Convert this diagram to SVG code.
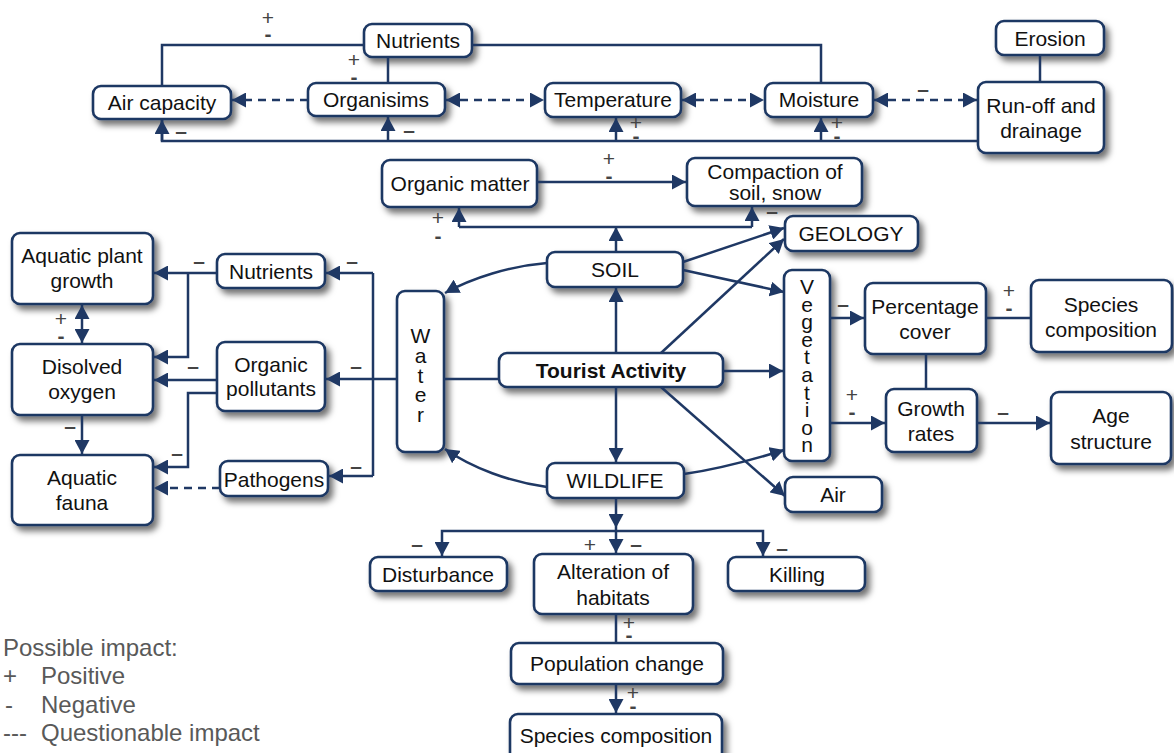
<svg xmlns="http://www.w3.org/2000/svg" width="1174" height="753" viewBox="0 0 1174 753">
<style>
.box{fill:#fff;stroke:#1f3864;stroke-width:2.6;filter:url(#sh)}
.t{font-family:"Liberation Sans",Arial,sans-serif;font-size:21px;fill:#111;text-anchor:middle}
.b{font-weight:bold}
.c{fill:none;stroke:#1f3864;stroke-width:2.5}
.d{stroke-dasharray:8 6}
.a{marker-end:url(#ar)}
.aa{marker-end:url(#ar);marker-start:url(#ar)}
.s{font-family:"Liberation Sans",Arial,sans-serif;font-size:21px;fill:#444;text-anchor:middle}
.m{font-weight:bold}
.lg{font-family:"Liberation Sans",Arial,sans-serif;font-size:24px;fill:#595959}
</style>
<defs>
<filter id="sh" x="-20%" y="-30%" width="150%" height="170%">
<feDropShadow dx="4" dy="5" stdDeviation="3.4" flood-color="#000" flood-opacity="0.55"/>
</filter>
<marker id="ar" viewBox="0 0 14 15" refX="14" refY="7.5" markerWidth="14" markerHeight="15" markerUnits="userSpaceOnUse" orient="auto-start-reverse">
<path d="M0,0 L14,7.5 L0,15 z" fill="#1f3864"/>
</marker>
</defs>
<rect width="1174" height="753" fill="#fff"/>

<g id="n-nutrients-top"><rect class="box" x="364" y="24" width="108" height="33" rx="8"/><text class="t" x="418" y="48">Nutrients</text></g>
<g id="n-air-capacity"><rect class="box" x="93" y="86" width="138" height="33" rx="8"/><text class="t" x="162" y="110">Air capacity</text></g>
<g id="n-organisims"><rect class="box" x="308" y="83" width="137" height="33" rx="8"/><text class="t" x="376" y="107">Organisims</text></g>
<g id="n-temperature"><rect class="box" x="545" y="83" width="136" height="34" rx="8"/><text class="t" x="613" y="107">Temperature</text></g>
<g id="n-moisture"><rect class="box" x="765" y="83" width="108" height="34" rx="8"/><text class="t" x="819" y="107">Moisture</text></g>
<g id="n-erosion"><rect class="box" x="996" y="21" width="108" height="34" rx="8"/><text class="t" x="1050" y="46">Erosion</text></g>
<g id="n-runoff"><rect class="box" x="978" y="82" width="126" height="71" rx="8"/><text class="t" x="1041" y="113">Run-off and</text><text class="t" x="1041" y="138">drainage</text></g>

<g id="n-organic-matter"><rect class="box" x="382" y="160" width="155" height="47" rx="8"/><text class="t" x="460" y="191">Organic matter</text></g>
<g id="n-compaction"><rect class="box" x="687" y="158" width="175" height="48" rx="8"/><text class="t" x="775" y="179">Compaction of</text><text class="t" x="775" y="200">soil, snow</text></g>
<g id="n-geology"><rect class="box" x="785" y="216" width="133" height="35" rx="8"/><text class="t" x="851" y="241">GEOLOGY</text></g>
<g id="n-soil"><rect class="box" x="547" y="252" width="136" height="35" rx="8"/><text class="t" x="615" y="277">SOIL</text></g>
<g id="n-water"><rect class="box" x="397" y="291" width="47" height="161" rx="8"/><text class="t" x="420.5" y="343"><tspan x="420.5">W</tspan><tspan x="420.5" dy="19.8">a</tspan><tspan x="420.5" dy="19.8">t</tspan><tspan x="420.5" dy="19.8">e</tspan><tspan x="420.5" dy="19.8">r</tspan></text></g>
<g id="n-tourist"><rect class="box" x="499" y="353" width="224" height="34" rx="8"/><text class="t b" x="611" y="378">Tourist Activity</text></g>
<g id="n-vegetation"><rect class="box" x="784" y="270" width="46" height="191" rx="8"/><text class="t" x="807" y="294"><tspan x="807">V</tspan><tspan x="807" dy="17.6">e</tspan><tspan x="807" dy="17.6">g</tspan><tspan x="807" dy="17.6">e</tspan><tspan x="807" dy="17.6">t</tspan><tspan x="807" dy="17.6">a</tspan><tspan x="807" dy="17.6">t</tspan><tspan x="807" dy="17.6">i</tspan><tspan x="807" dy="17.6">o</tspan><tspan x="807" dy="17.6">n</tspan></text></g>
<g id="n-wildlife"><rect class="box" x="547" y="463" width="137" height="35" rx="8"/><text class="t" x="615" y="488">WILDLIFE</text></g>
<g id="n-air"><rect class="box" x="785" y="477" width="97" height="35" rx="8"/><text class="t" x="833" y="502">Air</text></g>

<g id="n-percentage-cover"><rect class="box" x="865" y="283" width="121" height="71" rx="8"/><text class="t" x="925" y="314">Percentage</text><text class="t" x="925" y="339">cover</text></g>
<g id="n-species-composition-right"><rect class="box" x="1031" y="280" width="141" height="72" rx="8"/><text class="t" x="1101" y="312">Species</text><text class="t" x="1101" y="337">composition</text></g>
<g id="n-growth-rates"><rect class="box" x="886" y="389" width="91" height="63" rx="8"/><text class="t" x="931" y="416">Growth</text><text class="t" x="931" y="441">rates</text></g>
<g id="n-age-structure"><rect class="box" x="1051" y="392" width="120" height="72" rx="8"/><text class="t" x="1111" y="423">Age</text><text class="t" x="1111" y="449">structure</text></g>

<g id="n-aquatic-plant"><rect class="box" x="12" y="233" width="141" height="71" rx="8"/><text class="t" x="82" y="263">Aquatic plant</text><text class="t" x="82" y="288">growth</text></g>
<g id="n-disolved-oxygen"><rect class="box" x="12" y="344" width="141" height="71" rx="8"/><text class="t" x="82" y="374">Disolved</text><text class="t" x="82" y="399">oxygen</text></g>
<g id="n-aquatic-fauna"><rect class="box" x="12" y="455" width="141" height="70" rx="8"/><text class="t" x="82" y="485">Aquatic</text><text class="t" x="82" y="510">fauna</text></g>
<g id="n-nutrients-left"><rect class="box" x="217" y="254" width="108" height="34" rx="8"/><text class="t" x="271" y="279">Nutrients</text></g>
<g id="n-organic-pollutants"><rect class="box" x="217" y="342" width="108" height="69" rx="8"/><text class="t" x="271" y="372">Organic</text><text class="t" x="271" y="396">pollutants</text></g>
<g id="n-pathogens"><rect class="box" x="220" y="461" width="108" height="35" rx="8"/><text class="t" x="274" y="487">Pathogens</text></g>

<g id="n-disturbance"><rect class="box" x="370" y="557" width="137" height="34" rx="8"/><text class="t" x="438" y="582">Disturbance</text></g>
<g id="n-alteration"><rect class="box" x="534" y="554" width="159" height="60" rx="8"/><text class="t" x="613" y="579">Alteration of</text><text class="t" x="613" y="605">habitats</text></g>
<g id="n-killing"><rect class="box" x="728" y="557" width="137" height="34" rx="8"/><text class="t" x="797" y="582">Killing</text></g>
<g id="n-population-change"><rect class="box" x="511" y="643" width="212" height="41" rx="8"/><text class="t" x="617" y="671">Population change</text></g>
<g id="n-species-composition-bottom"><rect class="box" x="510" y="714" width="212" height="48" rx="8"/><text class="t" x="616" y="743">Species composition</text></g>

<g id="connectors">
<path class="c" d="M162,86 L162,45 L364,45"/>
<path class="c" d="M472,45 L821,45 L821,83"/>
<path class="c" d="M388,57 L388,83"/>
<path class="c" d="M1040,55 L1040,82"/>
<path class="c" d="M978,141 L162,141 L162,120"/>
<path class="c a" d="M162,141 L162,120"/>
<path class="c a" d="M388,141 L388,117"/>
<path class="c a" d="M616,141 L616,118"/>
<path class="c a" d="M821,141 L821,118"/>
<path class="c d a" d="M308,100 L232,100"/>
<path class="c d aa" d="M446,100 L544,100"/>
<path class="c d aa" d="M682,100 L764,100"/>
<path class="c d aa" d="M874,100 L977,100"/>

<path class="c a" d="M537,182 L686,182"/>
<path class="c a" d="M616,252 L616,227"/>
<path class="c" d="M459,227 L752,227"/>
<path class="c a" d="M459,227 L459,208"/>
<path class="c a" d="M752,227 L752,207"/>

<path class="c a" d="M683,262 L784,228"/>
<path class="c a" d="M683,270 L784,292"/>
<path class="c a" d="M661,353 L784,239"/>
<path class="c a" d="M616,353 L616,288"/>
<path class="c a" d="M616,387 L616,462"/>
<path class="c a" d="M723,371 L783,371"/>
<path class="c a" d="M661,387 L785,496"/>
<path class="c" d="M499,379 L444,379"/>
<path class="c a" d="M547,263 C510,266 472,278 445,293"/>
<path class="c a" d="M547,487 C510,482 472,468 445,449"/>
<path class="c a" d="M684,474 C720,469 752,460 784,450"/>

<path class="c a" d="M830,318 L864,318"/>
<path class="c a" d="M830,423 L885,423"/>
<path class="c" d="M986,318 L1031,318"/>
<path class="c" d="M926,354 L926,389"/>
<path class="c a" d="M977,423 L1050,423"/>

<path class="c a" d="M397,379 L326,379"/>
<path class="c" d="M373,273 L373,476"/>
<path class="c a" d="M373,273 L326,273"/>
<path class="c a" d="M373,476 L329,476"/>
<path class="c a" d="M217,273 L154,273"/>
<path class="c a" d="M188,273 L188,357 L154,357"/>
<path class="c a" d="M217,380 L154,380"/>
<path class="c a" d="M217,393 L188,393 L188,467 L154,467"/>
<path class="c d a" d="M220,488 L154,488"/>
<path class="c aa" d="M82,305 L82,343"/>
<path class="c a" d="M82,416 L82,454"/>

<path class="c a" d="M616,498 L616,528"/>
<path class="c a" d="M616,528 L616,553"/>
<path class="c a" d="M616,531 L442,531 L442,556"/>
<path class="c a" d="M616,531 L763,531 L763,556"/>
<path class="c" d="M616,614 L616,643"/>
<path class="c a" d="M616,684 L616,713"/>
</g>

<g id="labels">
<text class="s" x="268" y="25">+<tspan class="m" x="268" dy="16">-</tspan></text>
<text class="s" x="354" y="67">+<tspan class="m" x="354" dy="17">-</tspan></text>
<text class="s m" x="181" y="138">–</text>
<text class="s m" x="409" y="137">–</text>
<text class="s" x="636" y="130">+<tspan class="m" x="636" dy="13">-</tspan></text>
<text class="s" x="837" y="130">+<tspan class="m" x="837" dy="13">-</tspan></text>
<text class="s m" x="923" y="96">–</text>
<text class="s" x="609" y="166">+<tspan class="m" x="609" dy="17">-</tspan></text>
<text class="s" x="438" y="225">+<tspan class="m" x="438" dy="18">-</tspan></text>
<text class="s m" x="772" y="218">–</text>
<text class="s m" x="843" y="311">–</text>
<text class="s" x="1009" y="298">+<tspan class="m" x="1009" dy="17">-</tspan></text>
<text class="s" x="852" y="402">+<tspan class="m" x="852" dy="17">-</tspan></text>
<text class="s m" x="1003" y="419">–</text>
<text class="s m" x="199" y="268">–</text>
<text class="s m" x="352" y="268">–</text>
<text class="s m" x="193" y="373">–</text>
<text class="s m" x="356" y="373">–</text>
<text class="s m" x="177" y="460">–</text>
<text class="s m" x="356" y="473">–</text>
<text class="s" x="61" y="326">+<tspan class="m" x="61" dy="17">-</tspan></text>
<text class="s m" x="70" y="433">–</text>
<text class="s m" x="417" y="551">–</text>
<text class="s" x="590" y="552">+</text>
<text class="s m" x="636" y="551">–</text>
<text class="s m" x="782" y="555">–</text>
<text class="s" x="629" y="630">+<tspan class="m" x="629" dy="12">-</tspan></text>
<text class="s" x="633" y="700">+<tspan class="m" x="633" dy="13">-</tspan></text>
</g>

<g id="legend">
<text class="lg" x="3" y="656">Possible impact:</text>
<text class="lg" x="3" y="684">+</text><text class="lg" x="41" y="684">Positive</text>
<text class="lg" x="5" y="713">-</text><text class="lg" x="41" y="713">Negative</text>
<text class="lg" x="3" y="741">---</text><text class="lg" x="41" y="741">Questionable impact</text>
</g>
</svg>
